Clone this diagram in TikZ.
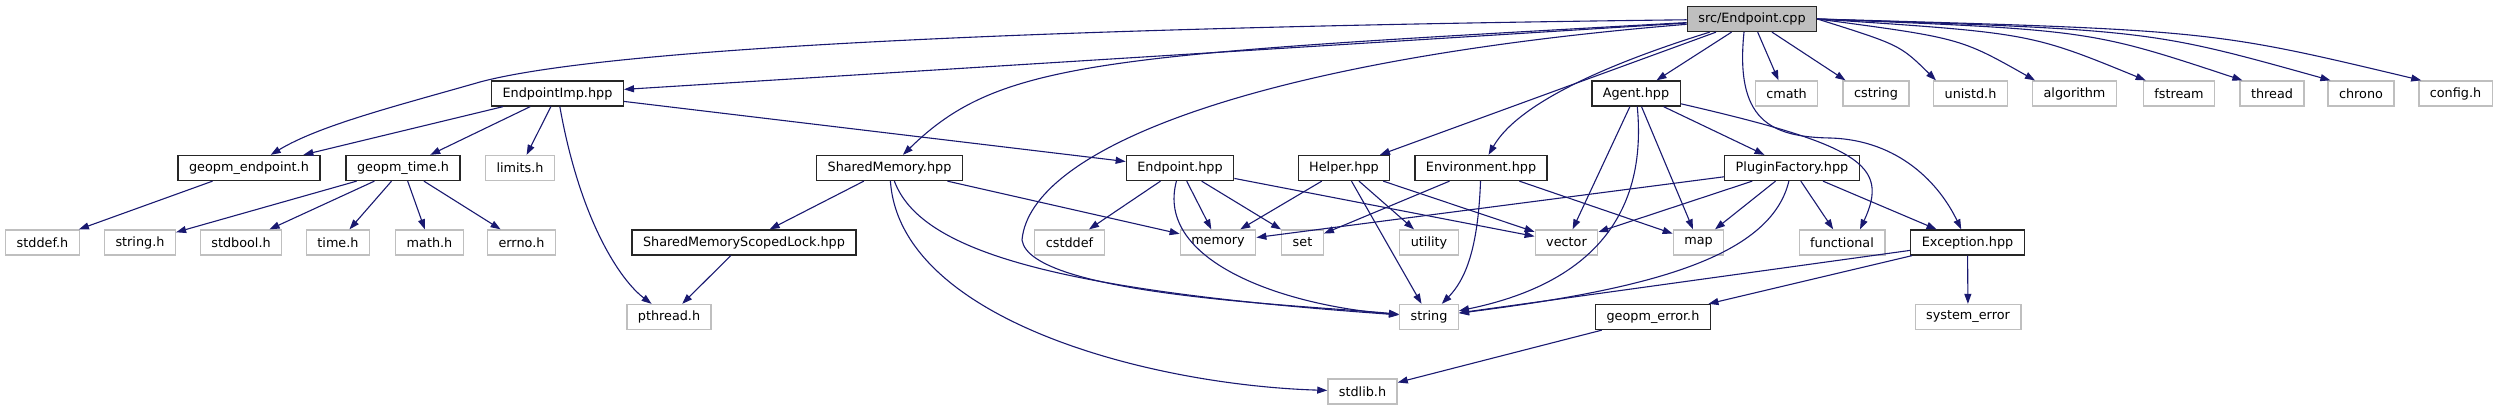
\documentclass[tikz,border=0pt]{standalone}
\usepackage{fontspec}
\setmainfont{DejaVu Sans}
\usepackage{xcolor}
\usepackage{tikz}
\usetikzlibrary{arrows.meta}
\definecolor{navy}{HTML}{191970}
\definecolor{boxgrey}{HTML}{BFBFBF}

\begin{document}
\begin{tikzpicture}[x=1pt,y=-1pt,
  proj/.style={draw=black!85,line width=1.3pt,fill=white,inner xsep=11pt,inner ysep=0pt,
    minimum height=25pt,font=\fontsize{12.8}{15}\selectfont},
  sys/.style={proj,draw=boxgrey},
  inc/.style={draw=navy,line width=1.1pt,-{Triangle[length=10pt,width=7pt]}}]
  \useasboundingbox (0,0) rectangle (2498,411);
  % top rows
  \node[proj,fill=boxgrey] (src) at (1752,19) {src/Endpoint.cpp};
  \node[proj] (eimp) at (557.5,93.5) {EndpointImp.hpp};
  \node[proj] (agent) at (1636,93.5) {Agent.hpp};
  \node[sys] (cmath) at (1786.5,93.5) {cmath};
  \node[sys] (cstring) at (1876,93.5) {cstring};
  \node[sys] (unistd) at (1970.5,93.5) {unistd.h};
  \node[sys] (algorithm) at (2074.5,93.5) {algorithm};
  \node[sys] (fstream) at (2179,93.5) {fstream};
  \node[sys] (thread) at (2272,93.5) {thread};
  \node[sys] (chrono) at (2361,93.5) {chrono};
  \node[sys] (config) at (2455.5,93.5) {config.h};
  % middle row
  \node[proj] (gend) at (249,168) {geopm\_endpoint.h};
  \node[proj] (gtime) at (403,168) {geopm\_time.h};
  \node[sys] (limits) at (520,168) {limits.h};
  \node[proj] (shm) at (889.5,168) {SharedMemory.hpp};
  \node[proj] (ep) at (1180,168) {Endpoint.hpp};
  \node[proj] (helper) at (1344,168) {Helper.hpp};
  \node[proj] (env) at (1481,168) {Environment.hpp};
  \node[proj] (pfac) at (1792,168) {PluginFactory.hpp};
  % lower rows
  \node[sys] (stddef) at (42.5,242.5) {stddef.h};
  \node[sys] (stringh) at (140,242.5) {string.h};
  \node[sys] (stdbool) at (241,242.5) {stdbool.h};
  \node[sys] (timeh) at (338,242.5) {time.h};
  \node[sys] (mathh) at (429.5,242.5) {math.h};
  \node[sys] (errno) at (521.5,242.5) {errno.h};
  \node[proj] (lock) at (744,242.5) {SharedMemoryScopedLock.hpp};
  \node[sys] (cstddef) at (1069.5,242.5) {cstddef};
  \node[sys] (memory) at (1218,242.5) {memory};
  \node[sys] (set) at (1302.5,242.5) {set};
  \node[sys] (utility) at (1429,242.5) {utility};
  \node[sys] (vector) at (1566.5,242.5) {vector};
  \node[sys] (map) at (1698.5,242.5) {map};
  \node[sys] (functional) at (1842,242.5) {functional};
  \node[proj] (exc) at (1967.5,242.5) {Exception.hpp};
  \node[sys] (pthread) at (669,317) {pthread.h};
  \node[sys] (string) at (1429,317) {string};
  \node[proj] (gerr) at (1653,317) {geopm\_error.h};
  \node[sys] (syserr) at (1968,317) {system\_error};
  \node[sys] (stdlib) at (1362.5,391.5) {stdlib.h};
  % src/Endpoint.cpp
  \draw[inc] (src) .. controls (1000,28) and (600,50) .. (480,82) .. controls (400,105) and (320,125) .. (gend);
  \draw[inc] (src) -- (eimp);
  \draw[inc] (src) .. controls (1100,55) and (1000,60) .. (shm);
  \draw[inc] (src) .. controls (1250,60) and (1030,150) .. (1022,240) .. controls (1030,295) and (1300,305) .. (string);
  \draw[inc] (src) -- (helper);
  \draw[inc] (src) .. controls (1620,60) and (1520,100) .. (env);
  \draw[inc] (src) -- (agent);
  \draw[inc] (src) -- ([xshift=-8pt]cmath.north);
  \draw[inc] (src) -- ([xshift=3pt]cstring.north west);
  \foreach \dst/\cx/\cy in {unistd/1900/45,algorithm/1960/38,fstream/2030/33,thread/2090/30,chrono/2150/30,config/2210/30}
    \draw[inc] (src.east) .. controls (\cx,\cy) .. ([xshift=3pt]\dst.north west);
  \draw[inc] ([xshift=-8pt]src.south) .. controls (1735,120) and (1770,137) .. (1830,138) .. controls (1900,140) and (1940,185) .. (exc);
  % EndpointImp.hpp
  \draw[inc] (eimp) -- (gend);
  \draw[inc] (eimp) -- (gtime);
  \draw[inc] (eimp) -- (limits);
  \draw[inc] (eimp) .. controls (580,220) and (620,280) .. (pthread);
  \draw[inc] (eimp) -- (ep);
  \draw[inc] (gend) -- (stddef);
  \foreach \dst in {stringh,stdbool,timeh,mathh,errno}
    \draw[inc] (gtime) -- (\dst);
  % SharedMemory.hpp
  \draw[inc] (shm) -- (lock);
  \draw[inc] (shm) -- (memory);
  \draw[inc] (shm) .. controls (920,250) and (1050,290) .. (string);
  \draw[inc] (shm) .. controls (900,320) and (1150,385) .. (stdlib);
  \draw[inc] (lock) -- (pthread);
  % Endpoint.hpp
  \draw[inc] (ep) -- (cstddef);
  \draw[inc] (ep) -- (memory);
  \draw[inc] (ep) -- (set);
  \draw[inc] (ep) -- (vector);
  \draw[inc] (ep) .. controls (1155,260) and (1280,305) .. (string);
  % Helper.hpp, Environment.hpp
  \draw[inc] (helper) -- (memory);
  \draw[inc] (helper) -- (string);
  \draw[inc] (helper) -- (utility);
  \draw[inc] (helper) -- (vector);
  \draw[inc] (env) -- (set);
  \draw[inc] (env) .. controls (1478,250) and (1465,280) .. (string);
  \draw[inc] (env) -- (map);
  % Agent.hpp
  \draw[inc] (agent) -- (vector);
  \draw[inc] (agent) .. controls (1650,240) and (1560,290) .. (string);
  \draw[inc] (agent) -- (map);
  \draw[inc] (agent) -- (pfac);
  \draw[inc] (agent) .. controls (1860,145) and (1890,165) .. ([xshift=18pt]functional.north);
  % PluginFactory.hpp
  \draw[inc] (pfac) -- (memory);
  \draw[inc] (pfac) -- (vector);
  \draw[inc] (pfac) -- (map);
  \draw[inc] (pfac) .. controls (1770,260) and (1640,290) .. (string);
  \draw[inc] (pfac) -- (functional);
  \draw[inc] (pfac) -- (exc);
  % Exception.hpp
  \draw[inc] (exc) -- (string);
  \draw[inc] (exc) -- (gerr);
  \draw[inc] (exc) -- (syserr);
  \draw[inc] (gerr) -- (stdlib);
\end{tikzpicture}
\end{document}
